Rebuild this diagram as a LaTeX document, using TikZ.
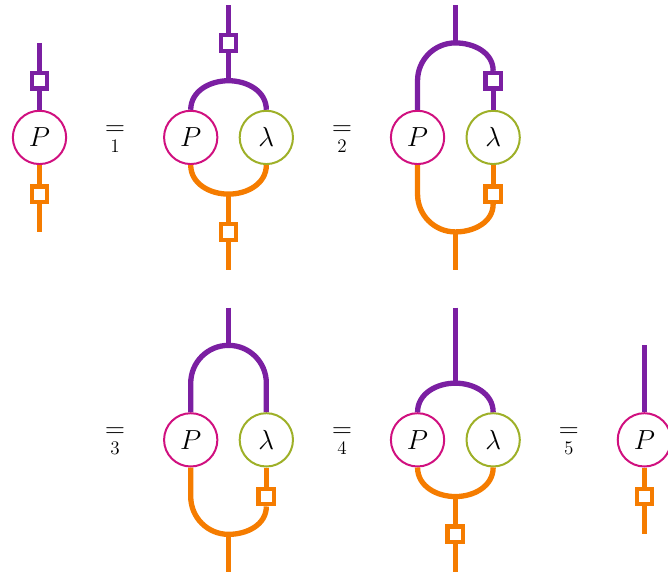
\documentclass[tikz,border=0pt]{standalone}
\usepackage{amsmath,amssymb}
\usepackage{xcolor}
\definecolor{wirepurple}{HTML}{7B1FA2}
\definecolor{wireorange}{HTML}{F57C00}
\definecolor{tenspink}{HTML}{D0107F}
\definecolor{tenslime}{HTML}{9EB028}
\tikzset{
  circP/.style={circle,draw=tenspink,line width=1.5pt,minimum size=1.41cm,inner sep=0pt,font=\huge,fill=white},
  circL/.style={circle,draw=tenslime,line width=1.5pt,minimum size=1.41cm,inner sep=0pt,font=\huge,fill=white},
  sqP/.style={rectangle,draw=wirepurple,line width=3.2pt,minimum size=0.41cm,inner sep=0pt,fill=white},
  sqO/.style={rectangle,draw=wireorange,line width=3.2pt,minimum size=0.41cm,inner sep=0pt,fill=white},
  wireP/.style={draw=wirepurple,line width=4pt},
  wireO/.style={draw=wireorange,line width=4pt},
  eqn/.style={font=\huge,inner sep=0pt},
}

\begin{document}
\begin{tikzpicture}
    \useasboundingbox (-1.045,3.635) rectangle (16.625,-11.545);

    % Fila 1, diagrama 1
    \node[circP] (pa) at (0,0) {$P$};
    \node[sqP] (sa) at (0,1.5) {};
    \node[sqO] (ta) at (0,-1.5) {};
    \coordinate (ua) at (0,2.5);
    \coordinate (da) at (0,-2.5);
    \draw[wireP] (ua) -- (sa);
    \draw[wireP] (sa) -- (pa);
    \draw[wireO] (pa) -- (ta);
    \draw[wireO] (ta) -- (da);

    \node[eqn] (eqa) at (2,-0.07) {$\underset{1}{=}$};

    % Fila 1, diagrama 2
    \node[circP] (pb) at (4,0) {$P$};
    \node[circL] (lb) at (6,0) {$\lambda$};
    \node[sqP] (sb) at (5,2.5) {};
    \node[sqO] (tb) at (5,-2.5) {};
    \coordinate (ub) at (5,3.5);
    \coordinate (db) at (5,-3.5);
    \coordinate (jb) at (5,1.5);
    \coordinate (kb) at (5,-1.5);
    \draw[wireP] (ub) -- (sb);
    \draw[wireP] (sb) -- (jb);
    \draw[wireP] (pb.north) to[out=90,in=180] (jb) to[out=0,in=90] (lb.north);
    \draw[wireO] (pb.south) to[out=-90,in=180] (kb) to[out=0,in=-90] (lb.south);
    \draw[wireO] (kb) -- (tb);
    \draw[wireO] (tb) -- (db);

    \node[eqn] (eqb) at (8,-0.07) {$\underset{2}{=}$};

    % Fila 1, diagrama 3
    \node[circP] (pc) at (10,0) {$P$};
    \node[circL] (lc) at (12,0) {$\lambda$};
    \node[sqP] (sc) at (12,1.5) {};
    \node[sqO] (tc) at (12,-1.5) {};
    \coordinate (uc) at (11,3.5);
    \coordinate (dc) at (11,-3.5);
    \coordinate (jc) at (11,2.5);
    \coordinate (kc) at (11,-2.5);
    \coordinate (vc) at (10,1.5);
    \coordinate (wc) at (10,-1.5);
    \draw[wireP] (uc) -- (jc);
    \draw[wireP] (pc.north) -- (vc) to[out=90,in=180] (jc) to[out=0,in=90] (sc.north);
    \draw[wireP] (sc) -- (lc);
    \draw[wireO] (pc.south) -- (wc) to[out=-90,in=180] (kc) to[out=0,in=-90] (tc.south);
    \draw[wireO] (tc) -- (lc);
    \draw[wireO] (kc) -- (dc);

    \node[eqn] (eqc) at (2,-8.07) {$\underset{3}{=}$};

    % Fila 2, diagrama 1
    \node[circP] (pd) at (4,-8) {$P$};
    \node[circL] (ld) at (6,-8) {$\lambda$};
    \node[sqO] (td) at (6,-9.5) {};
    \coordinate (ud) at (5,-4.5);
    \coordinate (dd) at (5,-11.5);
    \coordinate (jd) at (5,-5.5);
    \coordinate (kd) at (5,-10.5);
    \coordinate (vd) at (4,-6.5);
    \coordinate (vf) at (6,-6.5);
    \coordinate (wd) at (4,-9.5);
    \draw[wireP] (ud) -- (jd);
    \draw[wireP] (pd.north) -- (vd) to[out=90,in=180] (jd) to[out=0,in=90] (vf) -- (ld.north);
    \draw[wireO] (pd.south) -- (wd) to[out=-90,in=180] (kd) to[out=0,in=-90] (td.south);
    \draw[wireO] (td) -- (ld);
    \draw[wireO] (kd) -- (dd);

    \node[eqn] (eqd) at (8,-8.07) {$\underset{4}{=}$};

    % Fila 2, diagrama 2
    \node[circP] (pe) at (10,-8) {$P$};
    \node[circL] (le) at (12,-8) {$\lambda$};
    \node[sqO] (te) at (11,-10.5) {};
    \coordinate (ue) at (11,-4.5);
    \coordinate (de) at (11,-11.5);
    \coordinate (je) at (11,-6.5);
    \coordinate (ke) at (11,-9.5);
    \draw[wireP] (ue) -- (je);
    \draw[wireP] (pe.north) to[out=90,in=180] (je) to[out=0,in=90] (le.north);
    \draw[wireO] (pe.south) to[out=-90,in=180] (ke) to[out=0,in=-90] (le.south);
    \draw[wireO] (ke) -- (te);
    \draw[wireO] (te) -- (de);

    \node[eqn] (eqe) at (14,-8.07) {$\underset{5}{=}$};

    % Fila 2, diagrama 3
    \node[circP] (pf) at (16,-8) {$P$};
    \node[sqO] (tf) at (16,-9.5) {};
    \coordinate (uf) at (16,-5.5);
    \coordinate (df) at (16,-10.5);
    \draw[wireP] (uf) -- (pf);
    \draw[wireO] (pf) -- (tf);
    \draw[wireO] (tf) -- (df);
  \end{tikzpicture}
\end{document}
